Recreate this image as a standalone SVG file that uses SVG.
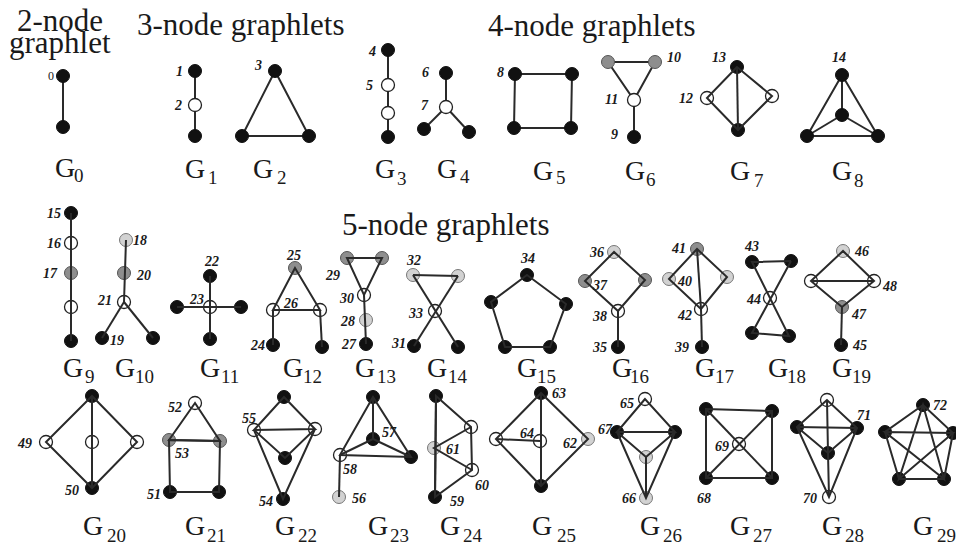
<svg xmlns="http://www.w3.org/2000/svg" width="956" height="546" viewBox="0 0 956 546">
<style>
.e line,.e polygon,.e polyline{stroke:#2a2a2a;stroke-width:2;fill:none}
.b{fill:#111;stroke:#111;stroke-width:1}
.w{fill:#fff;stroke:#222;stroke-width:1.3}
.g{fill:#8e8e8e;stroke:#555;stroke-width:1}
.l{fill:#d2d2d2;stroke:#777;stroke-width:1}
</style>
<defs>
<circle id="nb" r="6.5" class="b"/>
<circle id="nw" r="6.5" class="w"/>
<circle id="ng" r="6.5" class="g"/>
<circle id="nl" r="6.5" class="l"/>
</defs>
<g id="titles" fill="#1a1a1a">
<text x="17" y="31" font-family="Liberation Serif" font-size="31">2-node</text>
<text x="9" y="53" font-family="Liberation Serif" font-size="31">graphlet</text>
<text x="137" y="35" font-family="Liberation Serif" font-size="31">3-node graphlets</text>
<text x="488" y="36" font-family="Liberation Serif" font-size="31">4-node graphlets</text>
<text x="342" y="235" font-family="Liberation Serif" font-size="31">5-node graphlets</text>
</g>
<g id="graphlets" fill="#1a1a1a">
<g id="G0">
<g class="e"><line x1="63" y1="76" x2="63" y2="127"/></g>
<use href="#nb" x="63" y="76"/><use href="#nb" x="63" y="127"/>
<text x="48" y="80" font-family="Liberation Serif" font-size="12">0</text>
<text x="55" y="177" font-family="Liberation Serif" font-size="28">G</text><text x="74" y="182" font-family="Liberation Serif" font-size="19">0</text>
</g>
<g id="G1">
<g class="e"><line x1="195" y1="71" x2="195" y2="136"/></g>
<use href="#nb" x="195" y="71"/><use href="#nw" x="195" y="105"/><use href="#nb" x="195" y="136"/>
<text x="176" y="76" font-family="Liberation Serif" font-size="14" font-style="italic" font-weight="bold">1</text>
<text x="175" y="110" font-family="Liberation Serif" font-size="14" font-style="italic" font-weight="bold">2</text>
<text x="185" y="178" font-family="Liberation Serif" font-size="28">G</text><text x="208" y="184" font-family="Liberation Serif" font-size="19">1</text>
</g>
<g id="G2">
<g class="e"><polygon points="275,71 242,136 309,136"/></g>
<use href="#nb" x="275" y="71"/><use href="#nb" x="242" y="136"/><use href="#nb" x="309" y="136"/>
<text x="255" y="70" font-family="Liberation Serif" font-size="14" font-style="italic" font-weight="bold">3</text>
<text x="253" y="178" font-family="Liberation Serif" font-size="28">G</text><text x="277" y="184" font-family="Liberation Serif" font-size="19">2</text>
</g>
<g id="G3">
<g class="e"><line x1="388" y1="50" x2="388" y2="137"/></g>
<use href="#nb" x="388" y="50"/><use href="#nw" x="388" y="85"/><use href="#nw" x="388" y="113"/><use href="#nb" x="388" y="137"/>
<text x="369" y="56" font-family="Liberation Serif" font-size="14" font-style="italic" font-weight="bold">4</text>
<text x="366" y="90" font-family="Liberation Serif" font-size="14" font-style="italic" font-weight="bold">5</text>
<text x="375" y="178" font-family="Liberation Serif" font-size="28">G</text><text x="397" y="185" font-family="Liberation Serif" font-size="19">3</text>
</g>
<g id="G4">
<g class="e"><line x1="446" y1="73" x2="446" y2="107"/><line x1="446" y1="107" x2="424" y2="129"/><line x1="446" y1="107" x2="469" y2="132"/></g>
<use href="#nb" x="446" y="73"/><use href="#nw" x="446" y="107"/><use href="#nb" x="424" y="129"/><use href="#nb" x="469" y="132"/>
<text x="422" y="77" font-family="Liberation Serif" font-size="14" font-style="italic" font-weight="bold">6</text>
<text x="421" y="110" font-family="Liberation Serif" font-size="14" font-style="italic" font-weight="bold">7</text>
<text x="437" y="178" font-family="Liberation Serif" font-size="28">G</text><text x="460" y="183" font-family="Liberation Serif" font-size="19">4</text>
</g>
<g id="G5">
<g class="e"><polygon points="515,74 572,74 571,128 514,128"/></g>
<use href="#nb" x="515" y="74"/><use href="#nb" x="572" y="74"/><use href="#nb" x="571" y="128"/><use href="#nb" x="514" y="128"/>
<text x="497" y="77" font-family="Liberation Serif" font-size="14" font-style="italic" font-weight="bold">8</text>
<text x="533" y="180" font-family="Liberation Serif" font-size="28">G</text><text x="556" y="184" font-family="Liberation Serif" font-size="19">5</text>
</g>
<g id="G6">
<g class="e"><polygon points="608,62 655,62 634,100"/><line x1="634" y1="100" x2="634" y2="137"/></g>
<use href="#ng" x="608" y="62"/><use href="#ng" x="655" y="62"/><use href="#nw" x="634" y="100"/><use href="#nb" x="634" y="137"/>
<text x="667" y="62" font-family="Liberation Serif" font-size="14" font-style="italic" font-weight="bold">10</text>
<text x="605" y="104" font-family="Liberation Serif" font-size="14" font-style="italic" font-weight="bold">11</text>
<text x="611" y="139" font-family="Liberation Serif" font-size="14" font-style="italic" font-weight="bold">9</text>
<text x="625" y="180" font-family="Liberation Serif" font-size="28">G</text><text x="646" y="186" font-family="Liberation Serif" font-size="19">6</text>
</g>
<g id="G7">
<use href="#nb" x="737" y="67"/><use href="#nw" x="707" y="98"/><use href="#nw" x="772" y="96"/><use href="#nb" x="738" y="130"/>
<g class="e"><polygon points="737,67 707,98 738,130 772,96"/><line x1="737" y1="67" x2="738" y2="130"/></g>
<text x="712" y="62" font-family="Liberation Serif" font-size="14" font-style="italic" font-weight="bold">13</text>
<text x="679" y="103" font-family="Liberation Serif" font-size="14" font-style="italic" font-weight="bold">12</text>
<text x="730" y="180" font-family="Liberation Serif" font-size="28">G</text><text x="754" y="187" font-family="Liberation Serif" font-size="19">7</text>
</g>
<g id="G8">
<g class="e"><polygon points="842,75 807,136 878,136"/><line x1="842" y1="75" x2="842" y2="115"/><line x1="842" y1="115" x2="807" y2="136"/><line x1="842" y1="115" x2="878" y2="136"/></g>
<use href="#nb" x="842" y="75"/><use href="#nb" x="842" y="115"/><use href="#nb" x="807" y="136"/><use href="#nb" x="878" y="136"/>
<text x="832" y="62" font-family="Liberation Serif" font-size="14" font-style="italic" font-weight="bold">14</text>
<text x="832" y="180" font-family="Liberation Serif" font-size="28">G</text><text x="854" y="187" font-family="Liberation Serif" font-size="19">8</text>
</g>
<g id="G9">
<use href="#nb" x="71" y="213"/><use href="#nw" x="71" y="243"/><use href="#ng" x="71" y="273"/><use href="#nw" x="71" y="307"/><use href="#nb" x="71" y="341"/>
<g class="e"><line x1="71" y1="213" x2="71" y2="341"/></g>
<text x="47" y="218" font-family="Liberation Serif" font-size="14" font-style="italic" font-weight="bold">15</text>
<text x="47" y="248" font-family="Liberation Serif" font-size="14" font-style="italic" font-weight="bold">16</text>
<text x="43" y="278" font-family="Liberation Serif" font-size="14" font-style="italic" font-weight="bold">17</text>
<text x="63" y="377" font-family="Liberation Serif" font-size="28">G</text><text x="85" y="383" font-family="Liberation Serif" font-size="19">9</text>
</g>
<g id="G10">
<use href="#nl" x="126" y="240"/><use href="#ng" x="124" y="273"/><use href="#nw" x="124" y="302"/><use href="#nb" x="102" y="338"/><use href="#nb" x="153" y="338"/>
<g class="e"><line x1="126" y1="240" x2="124" y2="302"/><line x1="124" y1="302" x2="102" y2="338"/><line x1="124" y1="302" x2="153" y2="338"/></g>
<text x="133" y="245" font-family="Liberation Serif" font-size="14" font-style="italic" font-weight="bold">18</text>
<text x="137" y="280" font-family="Liberation Serif" font-size="14" font-style="italic" font-weight="bold">20</text>
<text x="98" y="305" font-family="Liberation Serif" font-size="14" font-style="italic" font-weight="bold">21</text>
<text x="110" y="345" font-family="Liberation Serif" font-size="14" font-style="italic" font-weight="bold">19</text>
<text x="115" y="377" font-family="Liberation Serif" font-size="28">G</text><text x="135" y="383" font-family="Liberation Serif" font-size="19">10</text>
</g>
<g id="G11">
<use href="#nb" x="210" y="276"/><use href="#nw" x="210" y="307"/><use href="#nb" x="177" y="307"/><use href="#nb" x="241" y="307"/><use href="#nb" x="210" y="339"/>
<g class="e"><line x1="210" y1="276" x2="210" y2="339"/><line x1="177" y1="307" x2="241" y2="307"/></g>
<text x="205" y="266" font-family="Liberation Serif" font-size="14" font-style="italic" font-weight="bold">22</text>
<text x="190" y="304" font-family="Liberation Serif" font-size="14" font-style="italic" font-weight="bold">23</text>
<text x="200" y="377" font-family="Liberation Serif" font-size="28">G</text><text x="221" y="383" font-family="Liberation Serif" font-size="19">11</text>
</g>
<g id="G12">
<use href="#ng" x="295" y="268"/><use href="#nw" x="273" y="310"/><use href="#nw" x="320" y="310"/><use href="#nb" x="273" y="345"/><use href="#nb" x="322" y="347"/>
<g class="e"><polygon points="295,268 273,310 320,310"/><line x1="273" y1="310" x2="273" y2="345"/><line x1="320" y1="310" x2="322" y2="347"/></g>
<text x="287" y="260" font-family="Liberation Serif" font-size="14" font-style="italic" font-weight="bold">25</text>
<text x="284" y="308" font-family="Liberation Serif" font-size="14" font-style="italic" font-weight="bold">26</text>
<text x="251" y="350" font-family="Liberation Serif" font-size="14" font-style="italic" font-weight="bold">24</text>
<text x="283" y="377" font-family="Liberation Serif" font-size="28">G</text><text x="303" y="383" font-family="Liberation Serif" font-size="19">12</text>
</g>
<g id="G13">
<use href="#ng" x="347" y="258"/><use href="#ng" x="382" y="258"/><use href="#nw" x="364" y="295"/><use href="#nl" x="366" y="320"/><use href="#nb" x="366" y="344"/>
<g class="e"><polygon points="347,258 382,258 364,295"/><line x1="364" y1="295" x2="366" y2="344"/></g>
<text x="326" y="280" font-family="Liberation Serif" font-size="14" font-style="italic" font-weight="bold">29</text>
<text x="340" y="303" font-family="Liberation Serif" font-size="14" font-style="italic" font-weight="bold">30</text>
<text x="341" y="326" font-family="Liberation Serif" font-size="14" font-style="italic" font-weight="bold">28</text>
<text x="342" y="349" font-family="Liberation Serif" font-size="14" font-style="italic" font-weight="bold">27</text>
<text x="355" y="377" font-family="Liberation Serif" font-size="28">G</text><text x="377" y="383" font-family="Liberation Serif" font-size="19">13</text>
</g>
<g id="G14">
<use href="#nl" x="413" y="275"/><use href="#nl" x="458" y="276"/><use href="#nw" x="435" y="311"/><use href="#nb" x="414" y="346"/><use href="#nb" x="458" y="347"/>
<g class="e"><line x1="413" y1="275" x2="458" y2="276"/><line x1="413" y1="275" x2="458" y2="347"/><line x1="458" y1="276" x2="414" y2="346"/></g>
<text x="407" y="265" font-family="Liberation Serif" font-size="14" font-style="italic" font-weight="bold">32</text>
<text x="409" y="318" font-family="Liberation Serif" font-size="14" font-style="italic" font-weight="bold">33</text>
<text x="392" y="348" font-family="Liberation Serif" font-size="14" font-style="italic" font-weight="bold">31</text>
<text x="427" y="377" font-family="Liberation Serif" font-size="28">G</text><text x="448" y="383" font-family="Liberation Serif" font-size="19">14</text>
</g>
<g id="G15">
<use href="#nb" x="527" y="275"/><use href="#nb" x="566" y="304"/><use href="#nb" x="550" y="347"/><use href="#nb" x="505" y="347"/><use href="#nb" x="491" y="302"/>
<g class="e"><polygon points="527,275 566,304 550,347 505,347 491,302"/></g>
<text x="521" y="263" font-family="Liberation Serif" font-size="14" font-style="italic" font-weight="bold">34</text>
<text x="517" y="377" font-family="Liberation Serif" font-size="28">G</text><text x="537" y="383" font-family="Liberation Serif" font-size="19">15</text>
</g>
<g id="G16">
<use href="#nl" x="614" y="252"/><use href="#ng" x="585" y="281"/><use href="#ng" x="645" y="280"/><use href="#nw" x="618" y="311"/><use href="#nb" x="618" y="347"/>
<g class="e"><polygon points="614,252 585,281 618,311 645,280"/><line x1="618" y1="311" x2="618" y2="347"/></g>
<text x="590" y="257" font-family="Liberation Serif" font-size="14" font-style="italic" font-weight="bold">36</text>
<text x="593" y="290" font-family="Liberation Serif" font-size="14" font-style="italic" font-weight="bold">37</text>
<text x="593" y="321" font-family="Liberation Serif" font-size="14" font-style="italic" font-weight="bold">38</text>
<text x="593" y="352" font-family="Liberation Serif" font-size="14" font-style="italic" font-weight="bold">35</text>
<text x="612" y="377" font-family="Liberation Serif" font-size="28">G</text><text x="630" y="383" font-family="Liberation Serif" font-size="19">16</text>
</g>
<g id="G17">
<use href="#ng" x="697" y="249"/><use href="#nl" x="669" y="279"/><use href="#nl" x="727" y="277"/><use href="#nw" x="701" y="309"/><use href="#nb" x="702" y="347"/>
<g class="e"><polygon points="697,249 669,279 701,309 727,277"/><line x1="697" y1="249" x2="701" y2="309"/><line x1="701" y1="309" x2="702" y2="347"/></g>
<text x="672" y="253" font-family="Liberation Serif" font-size="14" font-style="italic" font-weight="bold">41</text>
<text x="678" y="286" font-family="Liberation Serif" font-size="14" font-style="italic" font-weight="bold">40</text>
<text x="678" y="320" font-family="Liberation Serif" font-size="14" font-style="italic" font-weight="bold">42</text>
<text x="675" y="352" font-family="Liberation Serif" font-size="14" font-style="italic" font-weight="bold">39</text>
<text x="695" y="377" font-family="Liberation Serif" font-size="28">G</text><text x="715" y="383" font-family="Liberation Serif" font-size="19">17</text>
</g>
<g id="G18">
<use href="#nb" x="752" y="262"/><use href="#nb" x="791" y="261"/><use href="#nw" x="770" y="298"/><use href="#nb" x="752" y="333"/><use href="#nb" x="789" y="336"/>
<g class="e"><polyline points="791,261 752,262 789,336 752,333 791,261"/></g>
<text x="745" y="251" font-family="Liberation Serif" font-size="14" font-style="italic" font-weight="bold">43</text>
<text x="747" y="304" font-family="Liberation Serif" font-size="14" font-style="italic" font-weight="bold">44</text>
<text x="768" y="377" font-family="Liberation Serif" font-size="28">G</text><text x="787" y="383" font-family="Liberation Serif" font-size="19">18</text>
</g>
<g id="G19">
<use href="#nl" x="843" y="251"/><use href="#nw" x="811" y="281"/><use href="#nw" x="874" y="281"/><use href="#ng" x="842" y="307"/><use href="#nb" x="841" y="345"/>
<g class="e"><polygon points="843,251 811,281 842,307 874,281"/><line x1="811" y1="281" x2="874" y2="281"/><line x1="842" y1="307" x2="841" y2="345"/></g>
<text x="855" y="256" font-family="Liberation Serif" font-size="14" font-style="italic" font-weight="bold">46</text>
<text x="883" y="291" font-family="Liberation Serif" font-size="14" font-style="italic" font-weight="bold">48</text>
<text x="852" y="319" font-family="Liberation Serif" font-size="14" font-style="italic" font-weight="bold">47</text>
<text x="853" y="350" font-family="Liberation Serif" font-size="14" font-style="italic" font-weight="bold">45</text>
<text x="832" y="377" font-family="Liberation Serif" font-size="28">G</text><text x="852" y="383" font-family="Liberation Serif" font-size="19">19</text>
</g>
<g id="G20">
<use href="#nb" x="92" y="396"/><use href="#nw" x="46" y="442"/><use href="#nw" x="92" y="442"/><use href="#nw" x="137" y="442"/><use href="#nb" x="92" y="488"/>
<g class="e"><polygon points="92,396 46,442 92,488 137,442"/><line x1="92" y1="396" x2="92" y2="488"/></g>
<text x="18" y="448" font-family="Liberation Serif" font-size="14" font-style="italic" font-weight="bold">49</text>
<text x="65" y="495" font-family="Liberation Serif" font-size="14" font-style="italic" font-weight="bold">50</text>
<text x="83" y="535" font-family="Liberation Serif" font-size="28">G</text><text x="107" y="542" font-family="Liberation Serif" font-size="19">20</text>
</g>
<g id="G21">
<use href="#nw" x="195" y="403"/><use href="#ng" x="169" y="440"/><use href="#ng" x="220" y="441"/><use href="#nb" x="170" y="492"/><use href="#nb" x="219" y="492"/>
<g class="e"><polygon points="195,403 169,440 220,441"/><polygon points="169,440 220,441 219,492 170,492"/></g>
<text x="168" y="412" font-family="Liberation Serif" font-size="14" font-style="italic" font-weight="bold">52</text>
<text x="175" y="458" font-family="Liberation Serif" font-size="14" font-style="italic" font-weight="bold">53</text>
<text x="147" y="499" font-family="Liberation Serif" font-size="14" font-style="italic" font-weight="bold">51</text>
<text x="185" y="535" font-family="Liberation Serif" font-size="28">G</text><text x="207" y="542" font-family="Liberation Serif" font-size="19">21</text>
</g>
<g id="G22">
<use href="#nb" x="284" y="397"/><use href="#nw" x="254" y="430"/><use href="#nw" x="315" y="429"/><use href="#nb" x="285" y="458"/><use href="#nb" x="283" y="499"/>
<g class="e"><polygon points="284,397 254,430 315,429"/><polyline points="254,430 285,458 315,429"/><polyline points="254,430 283,499 315,429"/></g>
<text x="242" y="423" font-family="Liberation Serif" font-size="14" font-style="italic" font-weight="bold">55</text>
<text x="259" y="506" font-family="Liberation Serif" font-size="14" font-style="italic" font-weight="bold">54</text>
<text x="275" y="535" font-family="Liberation Serif" font-size="28">G</text><text x="298" y="542" font-family="Liberation Serif" font-size="19">22</text>
</g>
<g id="G23">
<use href="#nb" x="373" y="397"/><use href="#nb" x="373" y="439"/><use href="#nw" x="340" y="455"/><use href="#nb" x="411" y="457"/><use href="#nl" x="339" y="497"/>
<g class="e"><polygon points="373,397 340,455 411,457"/><line x1="373" y1="397" x2="373" y2="439"/><line x1="373" y1="439" x2="340" y2="455"/><line x1="373" y1="439" x2="411" y2="457"/><line x1="340" y1="455" x2="339" y2="497"/></g>
<text x="382" y="437" font-family="Liberation Serif" font-size="14" font-style="italic" font-weight="bold">57</text>
<text x="343" y="474" font-family="Liberation Serif" font-size="14" font-style="italic" font-weight="bold">58</text>
<text x="352" y="503" font-family="Liberation Serif" font-size="14" font-style="italic" font-weight="bold">56</text>
<text x="368" y="535" font-family="Liberation Serif" font-size="28">G</text><text x="390" y="542" font-family="Liberation Serif" font-size="19">23</text>
</g>
<g id="G24">
<use href="#nb" x="436" y="396"/><use href="#nw" x="471" y="427"/><use href="#nl" x="434" y="448"/><use href="#nw" x="472" y="470"/><use href="#nb" x="435" y="497"/>
<g class="e"><polygon points="436,396 471,427 472,470 435,497"/><line x1="436" y1="396" x2="435" y2="497"/><polyline points="471,427 434,448 472,470"/></g>
<text x="446" y="454" font-family="Liberation Serif" font-size="14" font-style="italic" font-weight="bold">61</text>
<text x="475" y="490" font-family="Liberation Serif" font-size="14" font-style="italic" font-weight="bold">60</text>
<text x="450" y="506" font-family="Liberation Serif" font-size="14" font-style="italic" font-weight="bold">59</text>
<text x="440" y="535" font-family="Liberation Serif" font-size="28">G</text><text x="463" y="542" font-family="Liberation Serif" font-size="19">24</text>
</g>
<g id="G25">
<use href="#nb" x="541" y="393"/><use href="#nw" x="496" y="439"/><use href="#nw" x="540" y="441"/><use href="#nl" x="588" y="439"/><use href="#nb" x="541" y="486"/>
<g class="e"><polygon points="541,393 496,439 541,486 588,439"/><line x1="541" y1="393" x2="541" y2="486"/><line x1="496" y1="439" x2="540" y2="441"/></g>
<text x="552" y="398" font-family="Liberation Serif" font-size="14" font-style="italic" font-weight="bold">63</text>
<text x="520" y="438" font-family="Liberation Serif" font-size="14" font-style="italic" font-weight="bold">64</text>
<text x="563" y="448" font-family="Liberation Serif" font-size="14" font-style="italic" font-weight="bold">62</text>
<text x="532" y="535" font-family="Liberation Serif" font-size="28">G</text><text x="557" y="542" font-family="Liberation Serif" font-size="19">25</text>
</g>
<g id="G26">
<use href="#nw" x="645" y="399"/><use href="#nb" x="617" y="432"/><use href="#nb" x="675" y="432"/><use href="#nl" x="646" y="457"/><use href="#nl" x="646" y="498"/>
<g class="e"><polygon points="645,399 617,432 675,432"/><polyline points="617,432 646,457 675,432"/><polyline points="617,432 646,498 675,432"/><line x1="646" y1="457" x2="646" y2="498"/></g>
<text x="620" y="408" font-family="Liberation Serif" font-size="14" font-style="italic" font-weight="bold">65</text>
<text x="598" y="434" font-family="Liberation Serif" font-size="14" font-style="italic" font-weight="bold">67</text>
<text x="622" y="503" font-family="Liberation Serif" font-size="14" font-style="italic" font-weight="bold">66</text>
<text x="640" y="535" font-family="Liberation Serif" font-size="28">G</text><text x="663" y="542" font-family="Liberation Serif" font-size="19">26</text>
</g>
<g id="G27">
<use href="#nb" x="706" y="409"/><use href="#nb" x="772" y="411"/><use href="#nw" x="739" y="444"/><use href="#nb" x="706" y="478"/><use href="#nb" x="772" y="478"/>
<g class="e"><polygon points="706,409 772,411 772,478 706,478"/><line x1="706" y1="409" x2="772" y2="478"/><line x1="772" y1="411" x2="706" y2="478"/></g>
<text x="715" y="451" font-family="Liberation Serif" font-size="14" font-style="italic" font-weight="bold">69</text>
<text x="697" y="503" font-family="Liberation Serif" font-size="14" font-style="italic" font-weight="bold">68</text>
<text x="730" y="535" font-family="Liberation Serif" font-size="28">G</text><text x="753" y="542" font-family="Liberation Serif" font-size="19">27</text>
</g>
<g id="G28">
<use href="#nw" x="827" y="400"/><use href="#nb" x="797" y="427"/><use href="#nb" x="857" y="428"/><use href="#nb" x="828" y="453"/><use href="#nw" x="829" y="497"/>
<g class="e"><polygon points="827,400 797,427 829,497 857,428"/><line x1="797" y1="427" x2="857" y2="428"/><polyline points="797,427 828,453 857,428"/><polyline points="827,400 828,453 829,497"/></g>
<text x="857" y="420" font-family="Liberation Serif" font-size="14" font-style="italic" font-weight="bold">71</text>
<text x="803" y="503" font-family="Liberation Serif" font-size="14" font-style="italic" font-weight="bold">70</text>
<text x="822" y="535" font-family="Liberation Serif" font-size="28">G</text><text x="845" y="542" font-family="Liberation Serif" font-size="19">28</text>
</g>
<g id="G29">
<use href="#nb" x="923" y="405"/><use href="#nb" x="885" y="432"/><use href="#nb" x="953" y="433"/><use href="#nb" x="899" y="479"/><use href="#nb" x="944" y="479"/>
<g class="e"><polygon points="923,405 953,433 944,479 899,479 885,432"/><polygon points="923,405 944,479 885,432 953,433 899,479"/></g>
<text x="933" y="410" font-family="Liberation Serif" font-size="14" font-style="italic" font-weight="bold">72</text>
<text x="913" y="535" font-family="Liberation Serif" font-size="28">G</text><text x="937" y="542" font-family="Liberation Serif" font-size="19">29</text>
</g>
</g>
</svg>
